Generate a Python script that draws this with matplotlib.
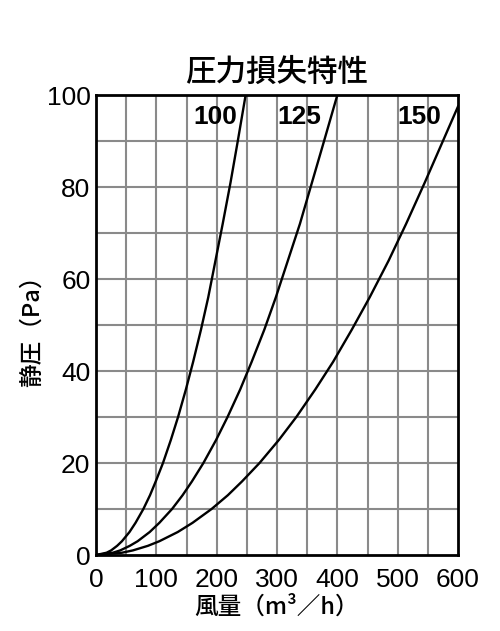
import matplotlib.pyplot as plt

plt.rcParams['font.family'] = ['Liberation Sans', 'Noto Sans CJK JP', 'DejaVu Sans']

p_100 = [0, 0.5, 1, 2, 3, 5, 7, 10, 13, 16, 20, 25, 30, 36, 42, 49, 56, 64, 72, 81, 90, 100]
q_100 = [0, 17.5, 25, 35, 43, 55.5, 65.5, 78.5, 89.5, 99, 111, 124, 136, 149, 161, 174,
         186, 198, 210, 223, 235, 248]

p_125 = [0, 0.5, 1, 2, 3, 5, 7, 10, 13, 16, 20, 25, 30, 36, 42, 49, 56, 64, 72, 81, 90, 100]
q_125 = [0, 28, 40, 56, 69, 89, 105, 126, 143.5, 159, 178, 199, 218, 239, 258, 279,
         298, 318, 338, 358, 378, 400]

p_150 = [0, 0.5, 1, 2, 3, 5, 7, 10, 13, 16, 20, 25, 30, 36, 42, 49, 56, 64, 72, 81, 90, 97.5]
q_150 = [0, 43, 61, 86, 105, 135.5, 160, 191.5, 218.5, 242, 271, 303, 332, 363.5, 393,
         424, 453.5, 485, 514, 545, 575, 600]

curve_names = ["100", "125", "150"]
label_x = [198, 337, 536]

x_ticks = [0, 100, 200, 300, 400, 500, 600]
y_ticks = [0, 20, 40, 60, 80, 100]

fig = plt.figure(figsize=(5, 6.31), dpi=100)
ax = fig.add_axes([0.192, 0.1204, 0.724, 0.729])

for v in range(50, 600, 50):
    ax.axvline(v, color='#8a8a8a', lw=1.5, zorder=1)
for v in range(10, 100, 10):
    ax.axhline(v, color='#8a8a8a', lw=1.5, zorder=1)

for q, p in [(q_100, p_100), (q_125, p_125), (q_150, p_150)]:
    ax.plot(q, p, color='black', lw=1.7, zorder=3)

for name, lx in zip(curve_names, label_x):
    ax.text(lx, 95.3, name, ha='center', va='center', fontsize=19,
            fontweight='bold', zorder=4)

ax.set_xlim(0, 600)
ax.set_ylim(0, 100)
ax.set_xticks(x_ticks)
ax.set_yticks(y_ticks)
ax.tick_params(length=0, labelsize=19)
ax.tick_params(axis='y', pad=4)
ax.tick_params(axis='x', pad=9)
for s in ax.spines.values():
    s.set_linewidth(2)

cjk = ['Noto Sans CJK JP', 'DejaVu Sans']
ax.set_title("圧力損失特性", fontsize=22, pad=10, family=cjk, fontweight='medium')
ax.set_xlabel("風量（m³／h）", fontsize=17, labelpad=3, family=cjk, fontweight='medium')
ax.set_ylabel("静圧（Pa）", fontsize=17, labelpad=2, family=cjk, fontweight='medium')

fig.savefig("out.png", dpi=100)
